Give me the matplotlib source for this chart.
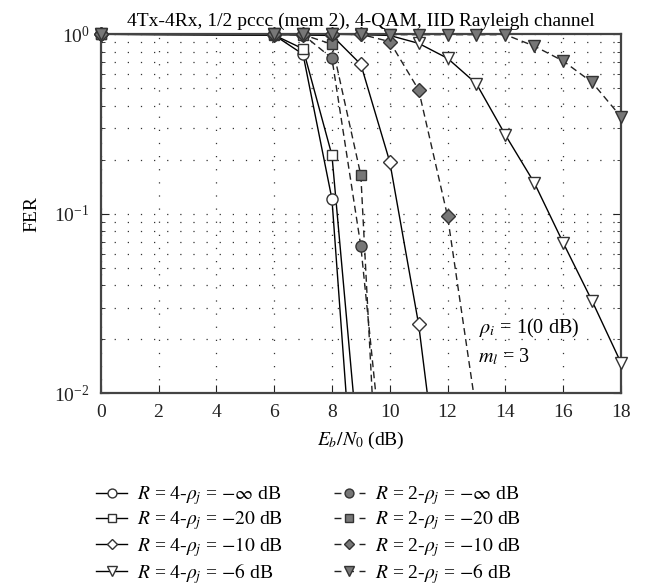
import matplotlib
matplotlib.use('Agg')
import matplotlib.pyplot as plt
import numpy as np
from matplotlib.ticker import LogLocator, NullFormatter
from matplotlib.lines import Line2D

plt.rcParams['font.family'] = ['Liberation Serif', 'DejaVu Serif']
plt.rcParams['mathtext.fontset'] = 'stix'

# Eb/N0 (dB) 与 FER 数据
x = [0, 6, 7, 8, 9, 10, 11, 12, 13, 14, 15, 16, 17, 18]

r4_inf = [1.0, 0.99, 0.774, 0.121, 7.4e-4]
r4_20 = [1.0, 0.99, 0.83, 0.212, 3.4e-3]
r4_10 = [1.0, 0.995, 0.99, 0.985, 0.68, 0.195, 0.0242, 1.26e-3]
r4_6 = [1.0, 1.0, 1.0, 1.0, 0.995, 0.985, 0.89, 0.735, 0.53, 0.275, 0.149, 0.069, 0.0327, 0.0148]

r2_inf = [1.0, 1.0, 0.995, 0.735, 0.066, 1.7e-3]
r2_20 = [1.0, 1.0, 0.995, 0.88, 0.164, 1.3e-4]
r2_10 = [1.0, 1.0, 1.0, 1.0, 1.0, 0.91, 0.49, 0.097, 7.8e-3]
r2_6 = [1.0, 1.0, 1.0, 1.0, 1.0, 0.995, 0.995, 0.995, 0.995, 0.995, 0.86, 0.71, 0.54, 0.347]

labels_r4 = [r'$R$ = 4-$\rho_j$ = $-\infty$ dB', r'$R$ = 4-$\rho_j$ = $-20$ dB',
             r'$R$ = 4-$\rho_j$ = $-10$ dB', r'$R$ = 4-$\rho_j$ = $-6$ dB']
labels_r2 = [r'$R$ = 2-$\rho_j$ = $-\infty$ dB', r'$R$ = 2-$\rho_j$ = $-20$ dB',
             r'$R$ = 2-$\rho_j$ = $-10$ dB', r'$R$ = 2-$\rho_j$ = $-6$ dB']
markers = ['o', 's', 'D', 'v']
msizes = [8, 7, 7, 9]

fig = plt.figure(figsize=(6.56, 5.86), dpi=100)
ax = fig.add_axes([0.1535, 0.3288, 0.7931, 0.6127])

edge = '#333333'
handles = []
series = [(r4_inf, r4_20, r4_10, r4_6), (r2_inf, r2_20, r2_10, r2_6)]
styles = [('-', 'white', 'black'), ((0, (5, 3)), '#777777', '#222222')]
for group, (ls, fc, lc) in zip(series, styles):
    for y, m, ms in zip(group, markers, msizes):
        xs = np.array(x[:len(y)])
        ys = np.array(y)
        # 线条裁剪到坐标区内, 标记画在边框上也可见
        ax.semilogy(xs, ys, color=lc, linewidth=1.0, linestyle=ls)
        keep = ys >= 1e-2
        ax.semilogy(xs[keep], ys[keep], linestyle='none', marker=m, markersize=ms,
                    markerfacecolor=fc, markeredgecolor=edge,
                    markeredgewidth=1.0, clip_on=False, zorder=3)
        # 图例用较小的标记
        handles.append(Line2D([], [], color=lc, linewidth=1.0,
                              linestyle='-' if ls == '-' else (0, (5, 4)),
                              marker=m, markersize=ms * 0.8, markerfacecolor=fc,
                              markeredgecolor=edge, markeredgewidth=1.0))

ax.set_xlim(0, 18)
ax.set_ylim(1e-2, 1)
ax.set_xticks(np.arange(0, 19, 2))
ax.yaxis.set_minor_locator(LogLocator(base=10, subs=np.arange(2, 10)))
ax.yaxis.set_minor_formatter(NullFormatter())
grid_ls = (0, (1, 9.5))
ax.grid(True, which='major', color='#333333', linestyle=grid_ls, linewidth=0.9)
ax.grid(True, which='minor', axis='y', color='#333333', linestyle=grid_ls, linewidth=0.9)
ax.tick_params(which='both', direction='in', top=False, right=True, labelsize=14, colors='#222222')
ax.tick_params(which='major', length=6, pad=8)
ax.tick_params(which='minor', length=3)
for s in ax.spines.values():
    s.set_linewidth(1.6)
    s.set_color('#444444')

ax.set_title('4Tx-4Rx, 1/2 pccc (mem 2), 4-QAM, IID Rayleigh channel', fontsize=14, pad=6)
ax.set_xlabel(r'$E_b/N_0$ (dB)', fontsize=14, labelpad=6)
ax.set_ylabel('FER', fontsize=14, labelpad=10)

ax.text(13.1, 10 ** -1.64, r'$\rho_i$ = 1(0 dB)', fontsize=14.5, va='center')
ax.text(13.05, 10 ** -1.80, r'$m_l$ = 3', fontsize=14.5, va='center')

fig.legend(handles, labels_r4 + labels_r2, ncol=2, loc='upper left',
           bbox_to_anchor=(0.135, 0.187), frameon=False, fontsize=14,
           handlelength=1.6, handletextpad=0.5, columnspacing=2.6,
           labelspacing=0.12, borderaxespad=0)

fig.savefig('out.png', dpi=100)
